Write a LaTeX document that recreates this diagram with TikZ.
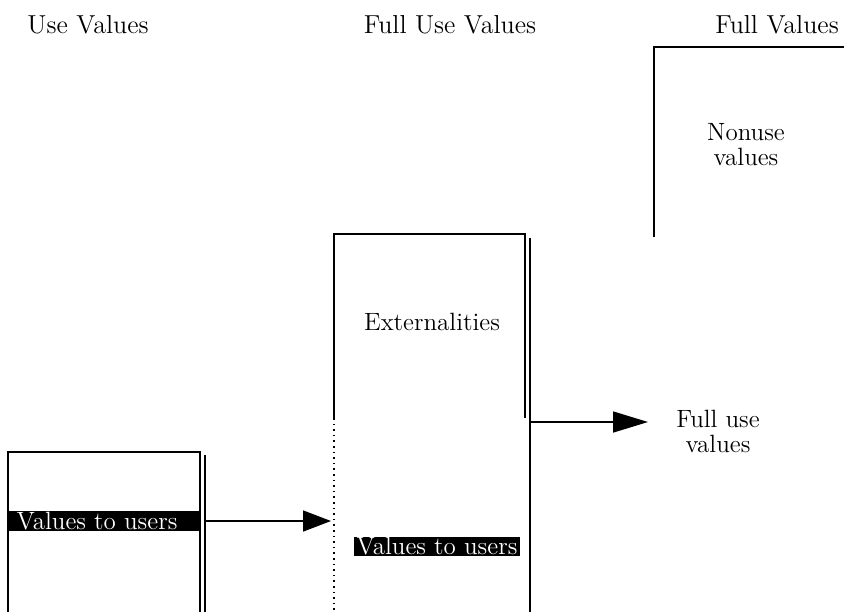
\documentclass[tikz,border=0pt]{standalone}
\usetikzlibrary{arrows.meta}
\begin{document}
\begin{tikzpicture}[x=0.5pt,y=-0.5pt,
  lbl/.style={font=\fontsize{12.5}{12.5}\selectfont, inner sep=0pt, align=center},
  head/.style={font=\fontsize{13}{15}\selectfont, inner sep=0pt},
  boxline/.style={draw=black, line width=0.8pt},
  conn/.style={line width=0.8pt, -{Triangle[length=14pt,width=10.5pt]}}]
\useasboundingbox (0,0) rectangle (844,612);
% headings
\node[head] (h1) at (88,25) {Use Values};
\node[head] (h2) at (450,25) {Full Use Values};
\node[head] (h3) at (777,25) {Full Values};
% right box (nonuse)
\draw[boxline] (654,237) -- (654,47) -- (844,47);
\node[lbl] (nonuse) at (746,145) {Nonuse\\values};
% left box
\draw[boxline] (8,612) -- (8,452) -- (200,452) -- (200,612);
\draw[boxline] (205,455) -- (205,612);
\fill (8,511) rectangle (200,531);
\node[lbl, text=white] (vu1) at (97,521) {Values to users};
% middle box
\draw[boxline] (334,418) -- (334,234) -- (525,234) -- (525,418);
\draw[boxline, dotted] (334,418) -- (334,612);
\draw[boxline] (530,238) -- (530,612);
\node[lbl] (ext) at (432,322) {Externalities};
\fill (354,537) rectangle (520,556);
\node[lbl, text=white] (vu2) at (437,546) {Values to users};
% full use values
\node[lbl] (fuv) at (718,431) {Full use\\values};
% connectors
\coordinate (a1s) at (205,521);
\coordinate (a1e) at (331,521);
\coordinate (a2s) at (530,422);
\coordinate (a2e) at (648,422);
\draw[conn] (a1s) -- (a1e);
\draw[conn, -{Triangle[length=17.5pt,width=10.5pt]}] (a2s) -- (a2e);
\end{tikzpicture}
\end{document}
